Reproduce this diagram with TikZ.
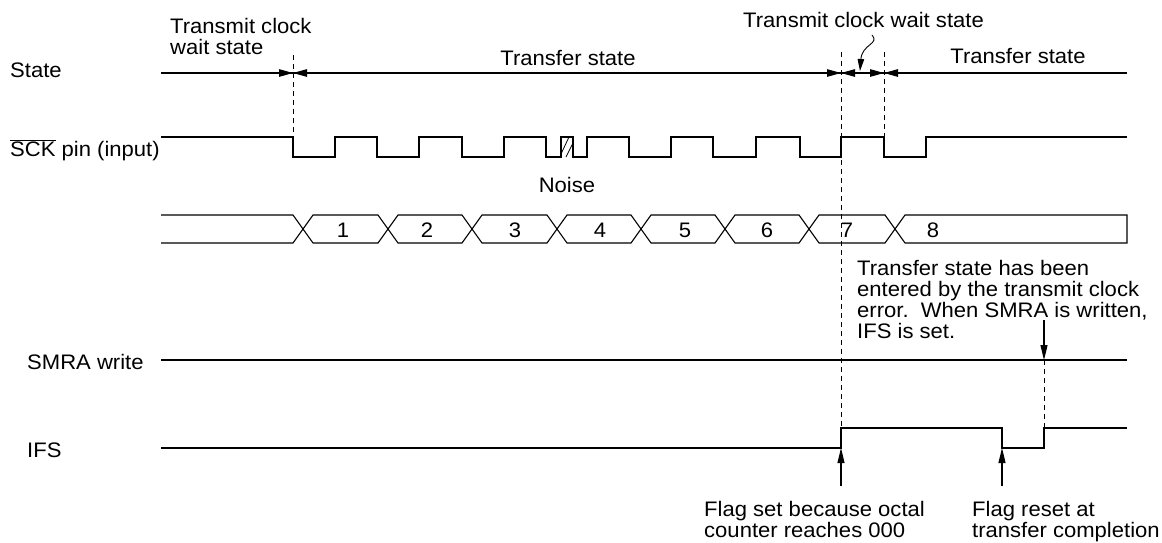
\documentclass[tikz,border=0pt]{standalone}
\usepackage{fontspec}
\setmainfont[FakeStretch=1.05]{Liberation Sans}
\usetikzlibrary{arrows.meta,calc}
\begin{document}
\begin{tikzpicture}[x=1pt,y=-1pt,
  wave/.style={line width=1.1pt, line join=miter},
  guide/.style={line width=0.9pt, dash pattern=on 5pt off 4pt},
  dimtip/.style={-{Triangle[length=14pt,width=7.5pt]}, line width=1pt},
  ptr/.style={-{Triangle[length=15pt,width=7pt]}, line width=1.1pt},
  lbl/.style={inner sep=0pt, font=\fontsize{21}{19.5}\selectfont}]
\useasboundingbox (0,0) rectangle (1162,542);

% ---- signal names
\node[lbl, anchor=base west] (lState) at (10,77) {State};
\node[lbl, anchor=base west] (lSCK) at (10,156) {$\overline{\hbox{SCK}}$ pin (input)};
\node[lbl, anchor=base west] (lSMRA) at (27,369) {SMRA write};
\node[lbl, anchor=base west] (lIFS) at (27,457) {IFS};

% ---- state labels
\node[lbl, anchor=base west] (sWait1) at (170,33) {\begin{tabular}[t]{@{}l@{}}Transmit clock\\ wait state\end{tabular}};
\node[lbl, anchor=base] (sXfer1) at (568,65) {Transfer state};
\node[lbl, anchor=base east] (sWait2) at (984,27) {Transmit clock wait state};
\node[lbl, anchor=base] (sXfer2) at (1018,63) {Transfer state};

% ---- state line and edges
\coordinate (e1) at (293,73);
\coordinate (e2) at (841,73);
\coordinate (e3) at (884,73);
\draw[wave] (161,73) -- (1127,73);
\foreach \e in {e1,e2,e3}{
  \draw[dimtip] ($(\e)+(-14,0)$) -- (\e);
  \draw[dimtip] ($(\e)+(14,0)$) -- (\e);
}
\coordinate (pw) at (872,35);
\coordinate (pt) at (860,71);
\draw[-{Triangle[length=12pt,width=6.5pt]}, line width=0.9pt] (pw) .. controls (880,44) and (862,44) .. (pt);

% ---- dashed guides
\draw[guide] (293,55) -- (293,137);
\draw[guide] (841,52) -- (841,428);
\draw[guide] (884,52) -- (884,137);
\draw[guide] (1044,360) -- (1044,428);

% ---- SCK waveform
\draw[wave] (161,137) -- (293,137) -- (293,157) -- (335,157) -- (335,137) -- (377,137) -- (377,157) -- (419,157) -- (419,137) -- (462,137) -- (462,157) -- (504,157) -- (504,137) -- (546,137) -- (546,157) -- (561,157) -- (561,137) -- (573,137) -- (573,157) -- (587,157) -- (587,137) -- (629,137) -- (629,157) -- (671,157) -- (671,137) -- (713,137) -- (713,157) -- (756,157) -- (756,137) -- (800,137) -- (800,157) -- (841,157) -- (841,137) -- (884,137) -- (884,157) -- (926,157) -- (926,137) -- (1127,137);
\draw[line width=0.8pt] (561,154) -- (569,137) (566,157) -- (573,143);
\node[lbl, anchor=base] (noise) at (567,192) {Noise};

% ---- data bus
\draw[wave] (161,215) -- (293,215) -- (303,229) -- (293,243) -- (161,243);
\foreach \a/\b in {303/388,388/472,472/557,557/641,641/725,725/809,809/895}{
  \draw[wave] (\a,229) -- (\a+10,215) -- (\b-10,215) -- (\b,229) -- (\b-10,243) -- (\a+10,243) -- cycle;
}
\draw[wave] (895,229) -- (905,215) -- (1127,215) -- (1127,243) -- (905,243) -- cycle;
\foreach \x/\n in {343/1,427/2,515/3,600/4,685/5,767/6,847/7,933/8}{
  \node[lbl, anchor=base] (bit\n) at (\x,237) {\n};
}

% ---- note
\node[lbl, anchor=base west] (note) at (857,275) {\begin{tabular}[t]{@{}l@{}}Transfer state has been\\ entered by the transmit clock\\ error.\ \ When SMRA is written,\\ IFS is set.\end{tabular}};

% ---- SMRA write
\draw[wave] (161,360) -- (1127,360);
\coordinate (wTop) at (1044,320);
\coordinate (wHit) at (1044,360);
\draw[ptr] (wTop) -- (wHit);

% ---- IFS
\draw[wave] (161,448) -- (841,448) -- (841,428) -- (1002,428) -- (1002,448) -- (1044,448) -- (1044,428) -- (1127,428);
\coordinate (fSet) at (841,448);
\coordinate (fRst) at (1002,448);
\draw[ptr] (841,486) -- (fSet);
\draw[ptr] (1002,486) -- (fRst);

\node[lbl, anchor=base west] (setTxt) at (704,516) {\begin{tabular}[t]{@{}l@{}}Flag set because octal\\ counter reaches 000\end{tabular}};
\node[lbl, anchor=base west] (rstTxt) at (972,516) {\begin{tabular}[t]{@{}l@{}}Flag reset at\\ transfer completion\end{tabular}};
\end{tikzpicture}
\end{document}
